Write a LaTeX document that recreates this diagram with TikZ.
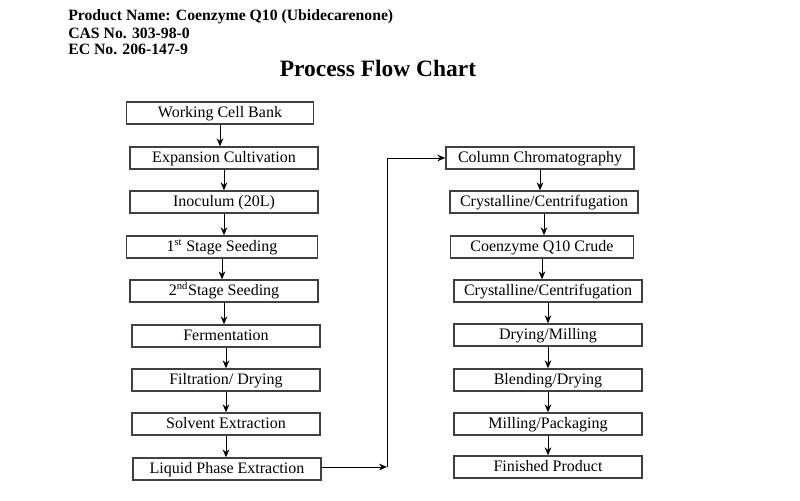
\documentclass[tikz,border=0pt]{standalone}
\usepackage{fontspec}
\setmainfont{Liberation Serif}
\usetikzlibrary{arrows.meta}
\begin{document}
\begin{tikzpicture}[x=0.75pt,y=-0.75pt,
  stepbox/.style={draw=black!75, line width=1pt, minimum width=141pt, minimum height=16.5pt, inner sep=0pt, text height=9pt, text depth=3pt, font=\fontsize{12}{14}\selectfont},
  head/.style={anchor=west, inner sep=0pt, font=\fontsize{11.8}{14}\selectfont\bfseries},
  arr/.style={draw, line width=0.75pt, -{Stealth[length=6pt,width=5pt]}}]
\useasboundingbox (0,0) rectangle (800,500);

\node[head] (pname) at (68,17) {Product Name: Coenzyme Q10 (Ubidecarenone)};
\node[head] (cas) at (68,33) {CAS No. 303-98-0};
\node[head] (ec) at (68,49) {EC No. 206-147-9};
\node[font=\fontsize{17.6}{20}\selectfont\bfseries] (title) at (378,68) {Process Flow Chart};

\node[stepbox, minimum width=140pt] (wcb) at (220,113) {Working Cell Bank};
\node[stepbox] (exp) at (224,158) {Expansion Cultivation};
\node[stepbox] (ino) at (224,202) {Inoculum (20L)};
\node[stepbox, minimum width=143pt] (st1) at (222,247) {1\textsuperscript{st} Stage Seeding};
\node[stepbox] (st2) at (224,291) {2\textsuperscript{nd}Stage Seeding};
\node[stepbox] (fer) at (226,336) {Fermentation};
\node[stepbox] (fil) at (226,380) {Filtration/ Drying};
\node[stepbox] (sol) at (226,424) {Solvent Extraction};
\node[stepbox] (lpe) at (227,469) {Liquid Phase Extraction};

\node[stepbox] (cc) at (540,158) {Column Chromatography};
\node[stepbox] (cr1) at (544,202) {Crystalline/Centrifugation};
\node[stepbox, minimum width=137pt] (crude) at (542,247) {Coenzyme Q10 Crude};
\node[stepbox] (cr2) at (548,291) {Crystalline/Centrifugation};
\node[stepbox] (dry) at (548,335) {Drying/Milling};
\node[stepbox] (ble) at (548,380) {Blending/Drying};
\node[stepbox] (mil) at (548,424) {Milling/Packaging};
\node[stepbox] (fin) at (548,467) {Finished Product};
\coordinate (turn) at (387,467);

\path[arr] (wcb.south) -- (wcb.south |- exp.north);
\path[arr] (exp.south) -- (exp.south |- ino.north);
\path[arr] (ino.south) -- (ino.south |- st1.north);
\path[arr] (st1.south) -- (st1.south |- st2.north);
\path[arr] (st2.south) -- (st2.south |- fer.north);
\path[arr] (fer.south) -- (fer.south |- fil.north);
\path[arr] (fil.south) -- (fil.south |- sol.north);
\path[arr] (sol.south) -- (sol.south |- lpe.north);
\path[arr] (lpe.east |- turn) -- (turn);
\path[arr] (turn) |- (cc.west);
\path[arr] (cc.south) -- (cc.south |- cr1.north);
\path[arr] (cr1.south) -- (cr1.south |- crude.north);
\path[arr] (crude.south) -- (crude.south |- cr2.north);
\path[arr] (cr2.south) -- (cr2.south |- dry.north);
\path[arr] (dry.south) -- (dry.south |- ble.north);
\path[arr] (ble.south) -- (ble.south |- mil.north);
\path[arr] (mil.south) -- (mil.south |- fin.north);
\end{tikzpicture}
\end{document}
